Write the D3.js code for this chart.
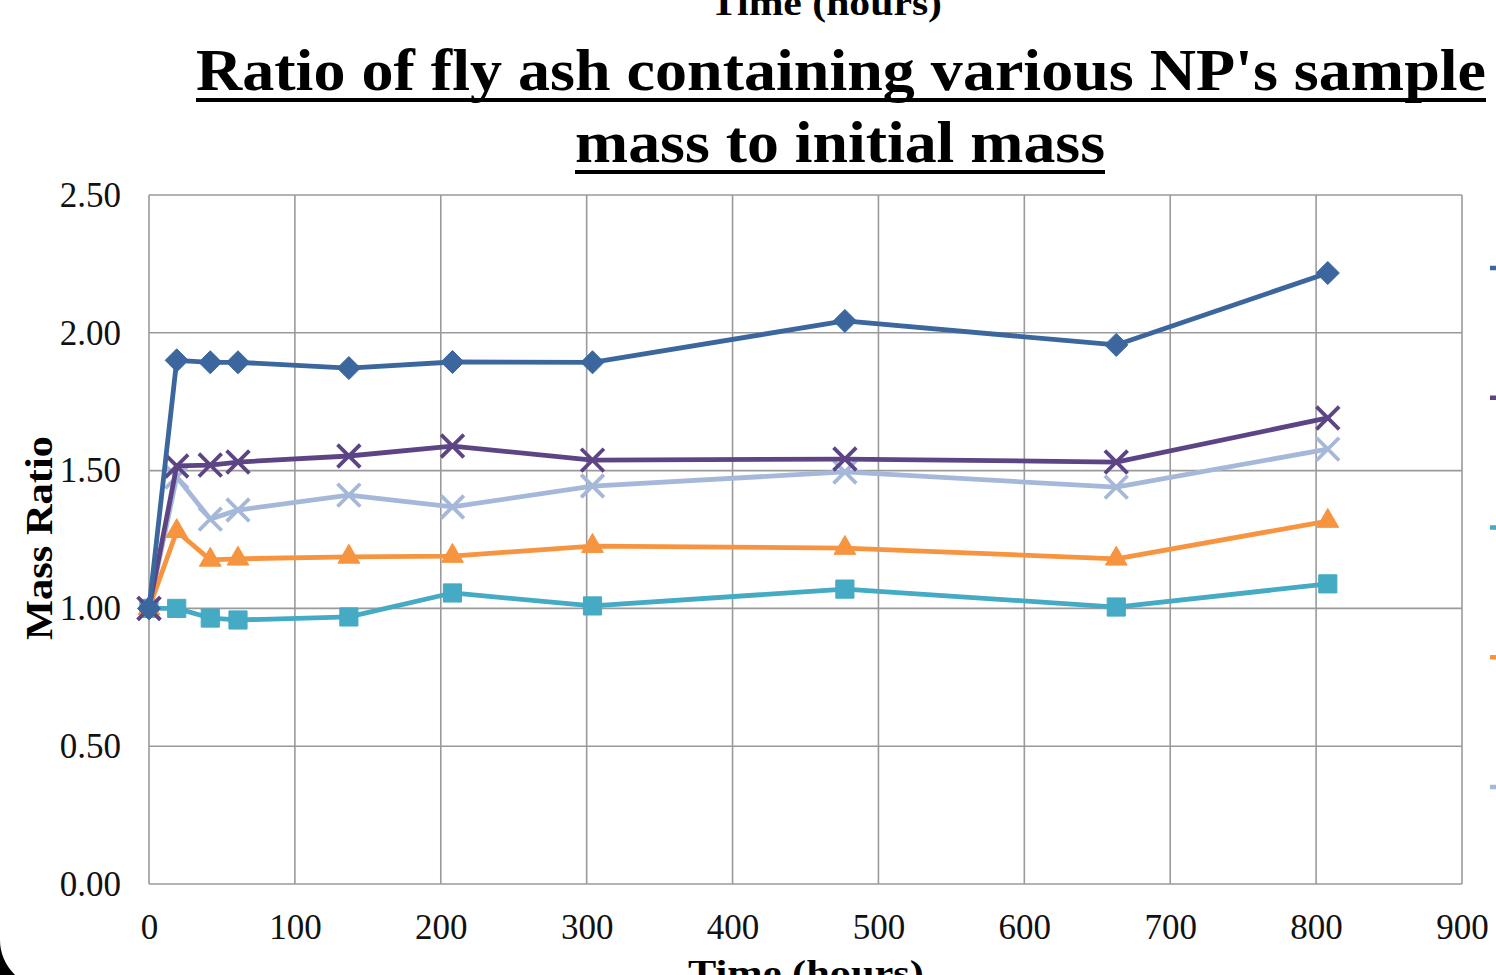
<!DOCTYPE html>
<html>
<head>
<meta charset="utf-8">
<script src="https://cdn.jsdelivr.net/npm/d3@7"></script>
<style>
  html, body { margin: 0; padding: 0; background: #fff; overflow: hidden; }
  svg { display: block; }
  text { font-family: "Liberation Serif", "Times New Roman", serif; }
</style>
</head>
<body>
<svg id="chart" width="1496" height="975"></svg>
<script>
// ---- data ----
const times = [0, 19, 42, 61, 137, 208, 304, 477, 663, 808];
const seriesKeys = ["s1", "s2", "s3", "s4", "s5"];
const blueDiamond = [1.00, 1.90, 1.893, 1.893, 1.872, 1.894, 1.893, 2.043, 1.956, 2.217];
const purpleX     = [1.00, 1.517, 1.52, 1.531, 1.553, 1.589, 1.538, 1.542, 1.531, 1.691];
const tealSquare  = [1.00, 1.00, 0.965, 0.958, 0.969, 1.056, 1.009, 1.070, 1.005, 1.089];
const orangeTri   = [1.00, 1.28, 1.176, 1.18, 1.187, 1.19, 1.226, 1.219, 1.18, 1.317];
const lightBlueX  = [1.00, 1.477, 1.324, 1.357, 1.411, 1.368, 1.444, 1.495, 1.440, 1.578];
const xTicks = [0, 100, 200, 300, 400, 500, 600, 700, 800, 900];
const yTicks = [0, 0.5, 1.0, 1.5, 2.0, 2.5];
const titleLines = ["Ratio of fly ash containing various NP's sample", "mass to initial mass"];
const xTitle = "Time (hours)";
const yTitle = "Mass Ratio";

const seriesData = [
  { key: seriesKeys[0], values: blueDiamond, color: "#3B679E", marker: "diamond" },
  { key: seriesKeys[1], values: purpleX,     color: "#5D4585", marker: "x" },
  { key: seriesKeys[2], values: tealSquare,  color: "#45AAC3", marker: "square" },
  { key: seriesKeys[3], values: orangeTri,   color: "#F79440", marker: "triangle" },
  { key: seriesKeys[4], values: lightBlueX,  color: "#A6B8D9", marker: "x" }
];
// drawing order (back to front)
const drawOrder = [4, 2, 3, 1, 0];

const svg = d3.select("#chart");
const plotLeft = 149, plotRight = 1462, plotTop = 195, plotBottom = 884;

const x = d3.scaleLinear().domain([0, 900]).range([plotLeft, plotRight]);
const y = d3.scaleLinear().domain([0, 2.5]).range([plotBottom, plotTop]);

// gridlines
const grid = svg.append("g");
grid.selectAll("line.h").data(yTicks).join("line").attr("class", "h")
  .attr("x1", plotLeft).attr("x2", plotRight)
  .attr("y1", d => y(d)).attr("y2", d => y(d))
  .attr("stroke", "#9a9a9a").attr("stroke-width", 1.6);
grid.selectAll("line.v").data(xTicks).join("line").attr("class", "v")
  .attr("y1", plotTop).attr("y2", plotBottom)
  .attr("x1", d => x(d)).attr("x2", d => x(d))
  .attr("stroke", "#9a9a9a").attr("stroke-width", 1.6);

// axes labels
const yAxis = d3.axisLeft(y).tickValues(yTicks).tickFormat(d3.format(".2f")).tickSize(0).tickPadding(28);
const gy = svg.append("g").attr("transform", `translate(${plotLeft},0)`).call(yAxis);
gy.select(".domain").remove();
gy.selectAll("text").attr("font-size", 35).attr("fill", "#111")
  .style("font-family", "'Liberation Serif', serif");

const xAxis = d3.axisBottom(x).tickValues(xTicks).tickFormat(d3.format("d")).tickSize(0).tickPadding(30);
const gx = svg.append("g").attr("transform", `translate(0,${plotBottom})`).call(xAxis);
gx.select(".domain").remove();
gx.selectAll("text").attr("font-size", 35).attr("fill", "#111")
  .style("font-family", "'Liberation Serif', serif");

// lines
const line = d3.line().x((d, i) => x(times[i])).y(d => y(d));
const markerGen = {
  diamond: d3.symbol().type(d3.symbolDiamond2).size(340),
  square: d3.symbol().type(d3.symbolSquare2).size(420),
  triangle: d3.symbol().type(d3.symbolTriangle2).size(340),
  x: d3.symbol().type(d3.symbolX).size(340)
};

drawOrder.forEach(si => {
  const s = seriesData[si];
  const g = svg.append("g");
  g.append("path").attr("d", line(s.values))
    .attr("fill", "none").attr("stroke", s.color).attr("stroke-width", 4.8)
    .attr("stroke-linejoin", "round");
  g.selectAll("path.m").data(s.values).join("path")
    .attr("class", "m")
    .attr("transform", (d, i) => `translate(${x(times[i])},${y(d)})`)
    .attr("d", markerGen[s.marker]())
    .attr("fill", s.marker === "x" ? "none" : s.color)
    .attr("stroke", s.color)
    .attr("stroke-width", s.marker === "x" ? 3.8 : 1);
});

// legend keys (legend labels lie outside the visible frame)
const legendY = d3.scalePoint().domain(seriesKeys).range([268, 787]);
seriesData.forEach(s => {
  svg.append("line")
    .attr("x1", 1490).attr("x2", 1530)
    .attr("y1", legendY(s.key)).attr("y2", legendY(s.key))
    .attr("stroke", s.color).attr("stroke-width", 4.5);
});

// title
svg.append("text").attr("x", 196).attr("y", 90)
  .attr("font-size", 60).attr("font-weight", "bold")
  .attr("textLength", 1290).attr("lengthAdjust", "spacingAndGlyphs")
  .text(titleLines[0]);
svg.append("rect").attr("x", 196).attr("y", 98).attr("width", 1290).attr("height", 4).attr("fill", "#000");
svg.append("text").attr("x", 575).attr("y", 162)
  .attr("font-size", 60).attr("font-weight", "bold")
  .attr("textLength", 530).attr("lengthAdjust", "spacingAndGlyphs")
  .text(titleLines[1]);
svg.append("rect").attr("x", 575).attr("y", 170).attr("width", 530).attr("height", 4).attr("fill", "#000");

// stray top axis title (partially cut off, as in the reference)
svg.append("text").attr("x", 826).attr("y", 15).attr("text-anchor", "middle")
  .attr("font-size", 36).attr("font-weight", "bold")
  .attr("textLength", 232).attr("lengthAdjust", "spacingAndGlyphs")
  .text(xTitle);

// x axis title (partially cut off, as in the reference)
svg.append("text").attr("x", 806).attr("y", 985).attr("text-anchor", "middle")
  .attr("font-size", 36).attr("font-weight", "bold")
  .attr("textLength", 236).attr("lengthAdjust", "spacingAndGlyphs")
  .text(xTitle);

// y axis title
svg.append("text").attr("transform", "translate(52,538) rotate(-90)")
  .attr("text-anchor", "middle")
  .attr("font-size", 38).attr("font-weight", "bold")
  .attr("textLength", 204).attr("lengthAdjust", "spacingAndGlyphs")
  .text(yTitle);

// black rounded screen corner at bottom-left
svg.append("path")
  .attr("d", "M0,940 A48,48 0 0 0 48,988 L0,988 Z")
  .attr("fill", "#000");
</script>
</body>
</html>
